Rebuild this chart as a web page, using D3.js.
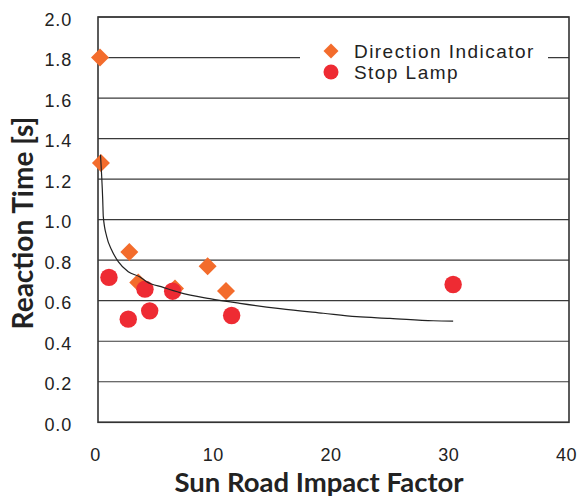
<!DOCTYPE html>
<html><head><meta charset="utf-8">
<script src="https://cdn.jsdelivr.net/npm/d3@7"></script>
<style>body{margin:0;background:#fff}</style>
</head><body>
<svg id="c" width="578" height="499"></svg>
<script>
// ---- data ----
const diamondX = [0.17, 0.25, 2.66, 3.42, 6.54, 9.31, 10.87];
const diamondY = [1.80, 1.28, 0.84, 0.69, 0.66, 0.77, 0.648];
const circleX = [0.93, 2.57, 3.99, 4.39, 6.34, 11.35, 30.16];
const circleY = [0.715, 0.509, 0.657, 0.550, 0.647, 0.527, 0.680];
const trendX = [0.21, 0.4, 0.45, 0.74, 1.16, 1.72, 2.57, 3.57, 4.13, 5.54, 6.96, 9.5, 12.05, 15.45, 19.13, 21.96, 24.79, 28.46, 30.16];
const trendY = [1.32, 1.10, 1.015, 0.916, 0.850, 0.793, 0.743, 0.717, 0.694, 0.666, 0.640, 0.610, 0.587, 0.561, 0.538, 0.521, 0.513, 0.501, 0.499];
const xTicks = [0, 10, 20, 30, 40];
const yTicks = [0, 0.2, 0.4, 0.6, 0.8, 1.0, 1.2, 1.4, 1.6, 1.8, 2.0];
const seriesNames = ["Direction Indicator", "Stop Lamp"];
const xTitle = "Sun Road Impact Factor";
const yTitle = "Reaction Time [s]";

// ---- drawing ----
const svg = d3.select("#c");
const x = d3.scaleLinear().domain([0, 40]).range([98, 569]);
const y = d3.scaleLinear().domain([0, 2]).range([422.3, 17]);
const ORANGE = "#F36C2C", RED = "#EE2B33", LINE = "#333";
const tickFont = "'Liberation Sans', Arial, sans-serif";

// gridlines
svg.append("g").selectAll("line").data(yTicks).join("line")
  .attr("x1", x(0)).attr("x2", x(40))
  .attr("y1", d => y(d)).attr("y2", d => y(d))
  .attr("stroke", "#3a3a3a").attr("stroke-width", 1.2);

// legend background (interrupts gridline)
svg.append("rect").attr("x", 300).attr("y", 36).attr("width", 248).attr("height", 52).attr("fill", "#fff");

// frame
svg.append("rect").attr("x", x(0)).attr("y", y(2)).attr("width", x(40) - x(0)).attr("height", y(0) - y(2))
  .attr("fill", "none").attr("stroke", LINE).attr("stroke-width", 1.6);

// axes
const xAxis = svg.append("g").attr("transform", `translate(0,${y(0)})`)
  .call(d3.axisBottom(x).tickValues(xTicks).tickSize(0).tickPadding(26).tickFormat(d3.format("d")));
xAxis.select(".domain").remove();
xAxis.selectAll("text").attr("font-family", tickFont).attr("font-size", 18).attr("fill", "#222")
  .attr("dx", -3).style("letter-spacing", "0.6px");

const yAxis = svg.append("g").attr("transform", `translate(${x(0)},0)`)
  .call(d3.axisLeft(y).tickValues(yTicks).tickSize(0).tickPadding(26).tickFormat(d3.format(".1f")));
yAxis.select(".domain").remove();
yAxis.selectAll("text").attr("font-family", tickFont).attr("font-size", 18).attr("fill", "#222")
  .attr("dy", "0.45em").style("letter-spacing", "0.8px");

// markers
const diamonds = diamondX.map((v, i) => [v, diamondY[i]]);
const circles = circleX.map((v, i) => [v, circleY[i]]);
svg.append("g").selectAll("path").data(diamonds).join("path")
  .attr("d", d3.symbol(d3.symbolSquare, 162)())
  .attr("transform", d => `translate(${x(d[0])},${y(d[1])}) rotate(45)`)
  .attr("fill", ORANGE);
svg.append("g").selectAll("circle").data(circles).join("circle")
  .attr("cx", d => x(d[0])).attr("cy", d => y(d[1])).attr("r", 8.7).attr("fill", RED);

// trend line
const trend = trendX.map((v, i) => [v, trendY[i]]);
svg.append("path").datum(trend)
  .attr("d", d3.line().x(d => x(d[0])).y(d => y(d[1])).curve(d3.curveMonotoneX))
  .attr("fill", "none").attr("stroke", "#222").attr("stroke-width", 1.2);

// legend
const lg = svg.append("g");
lg.append("path").attr("d", d3.symbol(d3.symbolSquare, 112)())
  .attr("transform", `translate(331,51) rotate(45)`).attr("fill", ORANGE);
lg.append("circle").attr("cx", 331).attr("cy", 72).attr("r", 7.5).attr("fill", RED);
lg.selectAll("text").data(seriesNames).join("text")
  .attr("x", 354).attr("y", (d, i) => 57.5 + i * 21)
  .attr("font-family", tickFont).attr("font-size", 19).attr("fill", "#222")
  .style("letter-spacing", "1.45px").text(d => d);

// titles
const titleFont = "Lato, 'Open Sans', sans-serif";
svg.append("text").attr("x", 319).attr("y", 492).attr("text-anchor", "middle")
  .attr("font-family", titleFont).attr("font-weight", 700).attr("font-size", 27.5).attr("fill", "#222")
  .text(xTitle);
svg.append("text").attr("transform", "translate(33,223) rotate(-90)").attr("text-anchor", "middle")
  .attr("font-family", titleFont).attr("font-weight", 700).attr("font-size", 28).attr("fill", "#222")
  .text(yTitle);
</script>
</body></html>
